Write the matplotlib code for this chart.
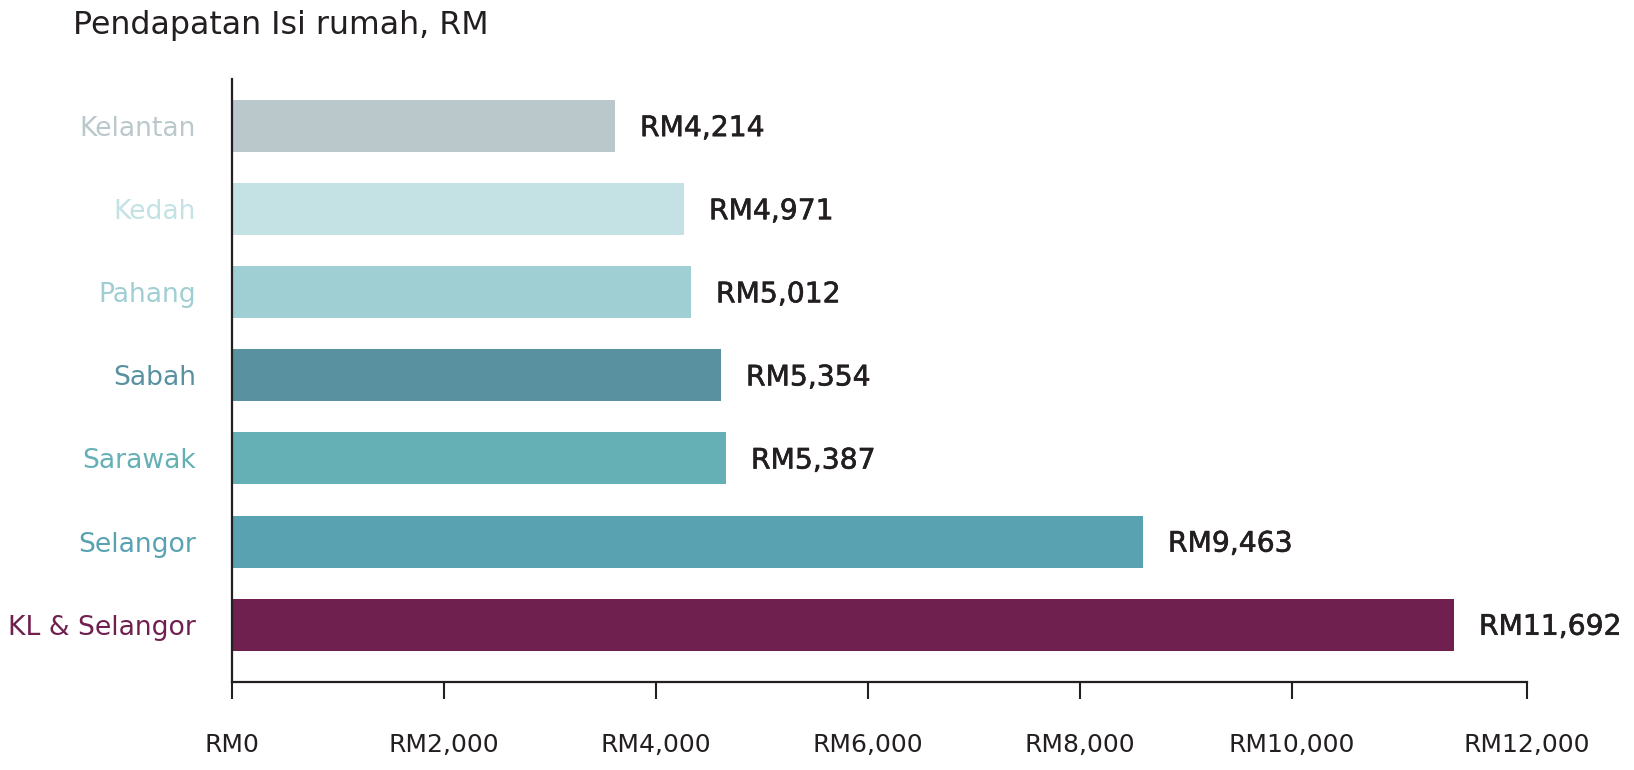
import matplotlib
matplotlib.use("Agg")
import matplotlib.pyplot as plt
import matplotlib.patheffects as pe

# ---- data ----
categories = ["Kelantan", "Kedah", "Pahang", "Sabah", "Sarawak", "Selangor", "KL & Selangor"]
bar_values = [3613, 4264, 4330, 4613, 4660, 8594, 11528]   # bar lengths as drawn
value_labels = ["RM4,214", "RM4,971", "RM5,012", "RM5,354", "RM5,387", "RM9,463", "RM11,692"]
colors = ["#BAC8CC", "#C4E2E3", "#9FCFD3", "#5A91A0", "#64B0B5", "#59A2B2", "#70204F"]
axis_end = 12217
tick_values = [0, 2000, 4000, 6000, 8000, 10000, axis_end]
tick_labels = ["RM0", "RM2,000", "RM4,000", "RM6,000", "RM8,000", "RM10,000", "RM12,000"]
title = "Pendapatan Isi rumah, RM"

plt.rcParams['font.family'] = ['DejaVu Sans']
txt = "#231F20"

fig = plt.figure(figsize=(16.34, 7.70), dpi=100)
ax = fig.add_axes([0.14198, 0.11429, 0.79253, 0.78312])

ypos = list(range(len(categories)))
ax.barh(ypos, bar_values, height=0.626, color=colors)

for y, v, lab in zip(ypos, bar_values, value_labels):
    ax.annotate(lab, xy=(v, y), xytext=(18, -1.5), textcoords="offset points",
                ha="left", va="center", fontsize=20.3, color=txt,
                path_effects=[pe.withStroke(linewidth=0.45, foreground=txt)])

ax.set_xlim(0, axis_end)
ax.set_ylim(6.69, -0.566)

ax.set_yticks(ypos)
ax.set_yticklabels(categories, fontsize=19.2)
for lbl, c in zip(ax.get_yticklabels(), colors):
    lbl.set_color(c)
ax.tick_params(axis="y", length=0, pad=26)

ax.set_xticks(tick_values)
ax.set_xticklabels(tick_labels, fontsize=18, color=txt)
ax.tick_params(axis="x", length=12, width=1.5, color="#231F20", pad=25)

for s in ["top", "right"]:
    ax.spines[s].set_visible(False)
for s in ["left", "bottom"]:
    ax.spines[s].set_color("#231F20")
    ax.spines[s].set_linewidth(1.6)

fig.text(0.0447, 0.9675, title, ha="left", va="center", fontsize=22.8, color=txt)

fig.savefig("out.png", dpi=100, facecolor="white")
